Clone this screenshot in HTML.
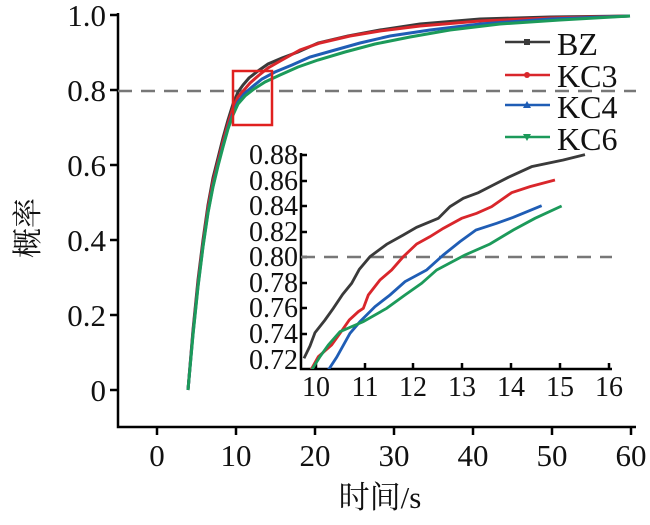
<!DOCTYPE html>
<html><head><meta charset="utf-8"><style>
body{margin:0;background:#fff}
svg text{font-family:"Liberation Serif","Times New Roman","Noto Serif CJK SC",serif}
</style></head><body>
<svg width="650" height="520" viewBox="0 0 650 520" font-family="Liberation Serif, Times New Roman, Noto Serif CJK SC, serif">
<defs><clipPath id="ic"><rect x="301" y="150" width="312" height="219"/></clipPath></defs>
<g stroke="#000" stroke-width="2.5" fill="none">
<path d="M118,13V427H636"/>
<path d="M110,15H118M110,90H118M110,165H118M110,240H118M110,315H118M110,390H118"/>
<path d="M157,427V435M236,427V435M315,427V435M394,427V435M473,427V435M552,427V435M631,427V435"/>
</g>
<g font-size="31" text-anchor="end" fill="#111">
<text x="106" y="26">1.0</text><text x="106" y="101">0.8</text><text x="106" y="176">0.6</text>
<text x="106" y="251">0.4</text><text x="106" y="326">0.2</text><text x="106" y="401">0</text>
</g>
<g font-size="31" text-anchor="middle" fill="#111">
<text x="157" y="466">0</text><text x="236" y="466">10</text><text x="315" y="466">20</text><text x="394" y="466">30</text>
<text x="473" y="466">40</text><text x="552" y="466">50</text><text x="631" y="466">60</text>
<text x="380" y="508">时间/s</text>
</g>
<text transform="translate(38,228) rotate(-90)" font-size="30" text-anchor="middle" fill="#111">概率</text>
<path d="M118,91H636" stroke="#777" stroke-width="2.5" stroke-dasharray="14,9"/>
<g fill="none" stroke-width="3">
<polyline stroke="#3a3a3a" points="188,390 193,330 198,280 203,240 208,205 213,178 218,158 223,138 228,120 233,104 238,92 243,85 249,78 258,71 268,64 282,58 298,52 318,43 348,36 380,30 420,24 480,19 550,17 630,16"/>
<polyline stroke="#d9262b" points="188,390 193,332 198,283 203,243 208,208 213,182 218,162 223,142 228,124 233,108 238,97 244,90 250,83 258,76 268,68 282,60 300,50 320,43 350,36 380,31 420,26 480,21 550,18 630,16"/>
<polyline stroke="#1f5db5" points="188,390 193,334 198,286 203,246 208,212 213,186 218,165 223,146 228,128 233,113 238,102 244,94 252,87 262,79 275,72 292,65 310,57 335,50 360,43 390,36 430,30 480,24 550,19 630,16"/>
<polyline stroke="#1c9a5a" points="188,390 193,335 198,287 203,247 208,213 213,187 218,166 223,147 228,129 233,115 238,104 245,96 254,89 265,82 280,75 298,67 318,60 345,52 375,44 410,37 450,30 500,24 560,20 630,16"/>
</g>
<rect x="233" y="71" width="39" height="54" fill="none" stroke="#e0201f" stroke-width="2.5"/>
<g stroke-width="2.5">
<line x1="505" y1="42" x2="550" y2="42" stroke="#3a3a3a"/><rect x="524" y="39" width="6" height="6" fill="#3a3a3a"/>
<line x1="505" y1="75" x2="550" y2="75" stroke="#d9262b"/><circle cx="527" cy="75" r="3" fill="#d9262b"/>
<line x1="505" y1="105" x2="550" y2="105" stroke="#1f5db5"/><path d="M523,108L527,101L531,108Z" fill="#1f5db5"/>
<line x1="505" y1="137" x2="550" y2="137" stroke="#1c9a5a"/><path d="M523,134L527,141L531,134Z" fill="#1c9a5a"/>
</g>
<g font-size="32" fill="#111"><text x="557" y="55">BZ</text><text x="557" y="87">KC3</text><text x="557" y="118">KC4</text><text x="557" y="150">KC6</text></g>
<g stroke="#000" stroke-width="2.5" fill="none">
<path d="M301,153V369H612"/>
<path d="M301,155H307M301,181H307M301,206H307M301,232H307M301,257H307M301,283H307M301,308H307M301,334H307"/>
<path d="M316,369V363M365,369V363M413,369V363M462,369V363M511,369V363M560,369V363M609,369V363"/>
</g>
<path d="M301,257H612" stroke="#777" stroke-width="2.5" stroke-dasharray="14,9"/>
<g font-size="28" text-anchor="end" fill="#111">
<text x="298" y="164">0.88</text><text x="298" y="190">0.86</text><text x="298" y="215">0.84</text><text x="298" y="241">0.82</text>
<text x="298" y="266">0.80</text><text x="298" y="292">0.78</text><text x="298" y="317">0.76</text><text x="298" y="343">0.74</text><text x="298" y="369">0.72</text>
</g>
<g font-size="28" text-anchor="middle" fill="#111">
<text x="316" y="396">10</text><text x="365" y="396">11</text><text x="413" y="396">12</text><text x="462" y="396">13</text>
<text x="511" y="396">14</text><text x="560" y="396">15</text><text x="609" y="396">16</text>
</g>
<g clip-path="url(#ic)"><g transform="translate(230,140) scale(0.3333)" fill="none" stroke-width="8.5">
<polyline stroke="#3a3a3a" points="222,655 240,618 255,578 285,540 310,505 338,463 365,430 388,388 420,350 470,313 520,285 560,262 625,235 660,200 700,175 745,158 790,135 835,112 905,80 1000,60 1065,44"/>
<polyline stroke="#d9262b" points="240,695 265,650 305,615 330,580 358,540 385,515 400,505 415,465 450,420 485,390 520,350 560,312 600,290 640,265 695,235 740,220 785,200 845,158 900,140 975,120"/>
<polyline stroke="#1f5db5" points="295,690 320,652 360,580 390,545 435,500 480,465 525,425 590,390 640,345 690,305 738,270 800,250 850,232 935,197"/>
<polyline stroke="#1c9a5a" points="245,690 270,650 295,615 330,575 400,545 470,505 525,465 575,430 620,390 705,345 780,312 850,270 915,235 995,198"/>
</g></g>
</svg>
</body></html>
